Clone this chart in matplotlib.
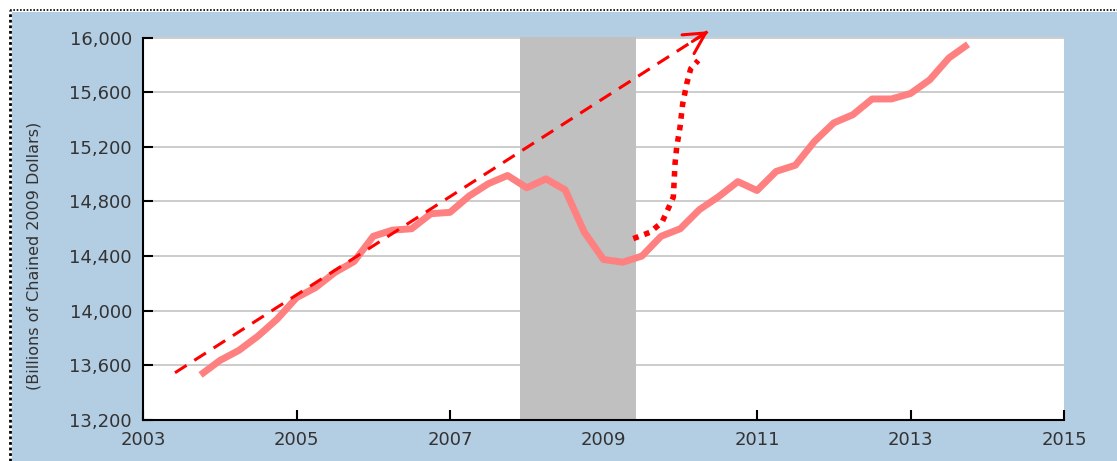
from matplotlib import pyplot as plt, ticker
from matplotlib.lines import Line2D
from matplotlib.patches import Rectangle
import pandas as pd

# real GDP, billions of chained 2009 dollars, quarterly 2003Q4 - 2013Q4
quarters = pd.period_range('2003Q4', '2013Q4', freq='Q')
gdp = [13530, 13635, 13710, 13815, 13940, 14095, 14170, 14280, 14360,
       14545, 14590, 14600, 14710, 14720, 14840, 14930, 14990,
       14900, 14965, 14885, 14575, 14375, 14355, 14400, 14545,
       14600, 14740, 14835, 14945, 14880, 15020, 15065, 15240,
       15375, 15435, 15550, 15550, 15590, 15690, 15850, 15950]

# recession (Dec 2007 - Jun 2009)
recession = (2007.917, 2009.417)

# hand-drawn trend arrow (dashed) and the "should have" path (dotted)
trend_x = [2003.417, 2010.366]
trend_y = [13546, 16046]
dot_x = [2009.388, 2009.606, 2009.762, 2009.844, 2009.910, 2009.932,
         2009.954, 2009.997, 2010.032, 2010.084, 2010.136, 2010.235]
dot_y = [14528, 14574, 14647, 14748, 14832, 15077,
         15198, 15344, 15515, 15661, 15771, 15832]

x_ticks = [2003, 2005, 2007, 2009, 2011, 2013, 2015]
y_ticks = [13200, 13600, 14000, 14400, 14800, 15200, 15600, 16000]


def main():
    W, H = 1117, 461
    fig = plt.figure(figsize=(W / 100, H / 100), dpi=100)
    fig.patch.set_facecolor('white')

    # blue panel and dotted frame
    fig.add_artist(Rectangle((12 / W, 0), 1 - 12 / W, (H - 12) / H,
                             transform=fig.transFigure, facecolor='#b3cde3',
                             edgecolor='none', zorder=0))
    fig.add_artist(Line2D([10 / W, 1], [1 - 10 / H, 1 - 10 / H], color='black',
                          lw=1.2, linestyle=(0, (1, 1)), transform=fig.transFigure))
    fig.add_artist(Line2D([10 / W, 10 / W], [0, 1 - 10 / H], color='black',
                          lw=2.0, linestyle=(0, (1, 1)), transform=fig.transFigure))

    ax = fig.add_axes([143 / W, 41 / H, 921 / W, 382.5 / H])
    ax.set_facecolor('white')

    x = [q.year + (q.quarter - 1) / 4 for q in quarters]

    ax.axvspan(*recession, color='#c0c0c0', lw=0, zorder=1)
    ax.plot(x, gdp, color='#ff8080', lw=5, solid_joinstyle='round',
            solid_capstyle='butt', zorder=3)

    ax.plot(trend_x, trend_y, color='red', lw=2.2, linestyle=(0, (4.5, 3)),
            clip_on=False, zorder=4)
    back = (trend_x[0] + 0.97 * (trend_x[1] - trend_x[0]),
            trend_y[0] + 0.97 * (trend_y[1] - trend_y[0]))
    ax.annotate('', xy=(trend_x[1], trend_y[1]), xytext=back,
                annotation_clip=False,
                arrowprops=dict(arrowstyle='->,head_length=1.5,head_width=0.8',
                                color='red', lw=2.2, shrinkA=0, shrinkB=0))
    ax.plot(dot_x, dot_y, color='red', lw=4, linestyle=(0, (1, 1.1)),
            clip_on=False, zorder=4)

    ax.set_xlim(2003, 2015)
    ax.set_ylim(13200, 16000)
    ax.set_xticks(x_ticks)
    ax.set_yticks(y_ticks)
    ax.yaxis.set_major_formatter(ticker.StrMethodFormatter('{x:,.0f}'))

    ax.yaxis.grid(True, color='#c8c8c8', lw=1.3)
    ax.set_axisbelow(True)
    for side in ['top', 'right']:
        ax.spines[side].set_visible(False)
    for side in ['left', 'bottom']:
        ax.spines[side].set_color('black')
        ax.spines[side].set_linewidth(1.5)

    ax.tick_params(direction='in', length=7, width=1.5, color='black',
                   labelcolor='#333333', labelsize=13)
    ax.tick_params(axis='y', pad=8)
    ax.tick_params(axis='x', pad=8)

    ax.set_ylabel('(Billions of Chained 2009 Dollars)', fontsize=11.5,
                  color='#333333')
    ax.yaxis.set_label_coords(-0.11, 0.43)

    fig.savefig('out.png', dpi=100, facecolor=fig.get_facecolor())


if __name__ == '__main__':
    main()
